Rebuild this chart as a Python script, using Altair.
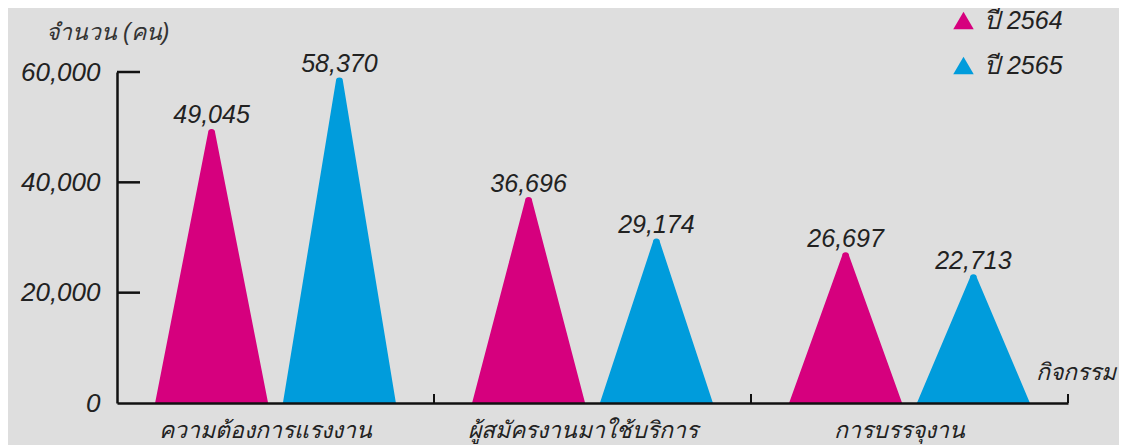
import altair as alt
import pandas as pd

categories = ["ความต้องการแรงงาน", "ผู้สมัครงานมาใช้บริการ", "การบรรจุงาน"]
years = ["ปี 2564", "ปี 2565"]
values_2564 = [49045, 36696, 26697]
values_2565 = [58370, 29174, 22713]
y_ticks = [0, 20000, 40000, 60000]

rows = []
for c, v1, v2 in zip(categories, values_2564, values_2565):
    for yr, v in ((years[0], v1), (years[1], v2)):
        rows.append({"cat": c, "year": yr, "key": c + yr, "value": v, "end": "top", "label": f"{v:,}"})
        rows.append({"cat": c, "year": yr, "key": c + yr, "value": 0, "end": "base", "label": f"{v:,}"})
df = pd.DataFrame(rows)
tops = df[df["end"] == "top"]
bases = df[df["end"] == "base"]

colors = ["#d6007e", "#009cdc"]
FONT = "Liberation Sans"
TXT = "#222222"

xs = alt.Scale(type="band", domain=categories, paddingInner=0, paddingOuter=0)
xo = alt.Scale(type="band", domain=years, paddingInner=0, paddingOuter=0.24)
ys = alt.Scale(domain=[0, 60000], nice=False, zero=True)
cs = alt.Scale(domain=years, range=colors)

x_enc = alt.X("cat:N", scale=xs, sort=categories,
              axis=alt.Axis(title="กิจกรรม", ticks=False, labelAngle=0, labelPadding=16, labelLimit=0,
                            labelOffset=-10,
                            labelFontSize=23, labelFont=FONT, labelFontStyle="italic", labelColor=TXT,
                            domainColor="#111", domainWidth=2.5, zindex=1,
                            titleFont=FONT, titleFontSize=23, titleFontStyle="italic", titleFontWeight="normal",
                            titleColor=TXT, titleX=918, titleY=-31, titleAlign="left", titleBaseline="middle"))
y_enc = alt.Y("value:Q", scale=ys,
              axis=alt.Axis(title="จำนวน (คน)", values=y_ticks, labelExpr="format(datum.value, ',')",
                            ticks=False, labelPadding=17,
                            labelFontSize=26, labelFont=FONT, labelFontStyle="italic", labelColor=TXT,
                            domainColor="#111", domainWidth=2.5, grid=False, zindex=1,
                            titleFont=FONT, titleFontSize=23, titleFontStyle="italic", titleFontWeight="normal",
                            titleColor="#333", titleAngle=0, titleX=-10, titleY=-40, titleAlign="center",
                            titleBaseline="middle"))
xo_enc = alt.XOffset("year:N", scale=xo, sort=years)

legend = alt.Legend(title=None, orient="none", legendX=834, legendY=-64,
                    symbolType="triangle-up", symbolSize=420, rowPadding=19,
                    symbolStrokeWidth=0, symbolOpacity=1,
                    labelFont=FONT, labelFontSize=25, labelFontStyle="italic",
                    labelColor=TXT, labelOffset=8, labelLimit=0)

# filled points hidden under the triangle bases: they give the legend filled symbols
pts = alt.Chart(bases).mark_point(shape="triangle-up", filled=True, opacity=1, clip=True).encode(
    x=x_enc, xOffset=xo_enc, y=y_enc,
    color=alt.Color("year:N", scale=cs, legend=legend),
)

tri = alt.Chart(df).mark_trail(clip=True).encode(
    x=x_enc, xOffset=xo_enc, y=y_enc,
    size=alt.Size("end:N", scale=alt.Scale(domain=["base", "top"], range=[113, 7]), legend=None),
    color=alt.Color("year:N", scale=cs, legend=legend),
    detail="key:N",
    order=alt.Order("value:Q"),
)

labels = alt.Chart(tops).mark_text(dy=-17, fontSize=25, font=FONT, fontStyle="italic", color=TXT).encode(
    x=alt.X("cat:N", scale=xs, sort=categories),
    xOffset=xo_enc,
    y=alt.Y("value:Q", scale=ys),
    text="label:N",
)

ytick_df = pd.DataFrame({"v": y_ticks[1:]})
yticks = alt.Chart(ytick_df).mark_rule(color="#111", strokeWidth=2.5).encode(
    y=alt.Y("v:Q", scale=ys), x=alt.value(0), x2=alt.value(23)
)

xtick_df = pd.DataFrame({"cat": categories})
xticks = alt.Chart(xtick_df).mark_rule(color="#111", strokeWidth=2).encode(
    x=alt.X("cat:N", scale=xs, sort=categories, bandPosition=1),
    y=alt.value(322), y2=alt.value(331),
)

chart = alt.layer(pts, tri, labels, yticks, xticks).properties(
    width=951, height=331,
    autosize=alt.AutoSizeParams(type="none"),
    padding={"left": 109, "top": 64, "right": 51, "bottom": 42},
    background="#dedede",
).configure_view(stroke=None)

chart.save("out.html", embed_options={"renderer": "svg", "actions": False})
